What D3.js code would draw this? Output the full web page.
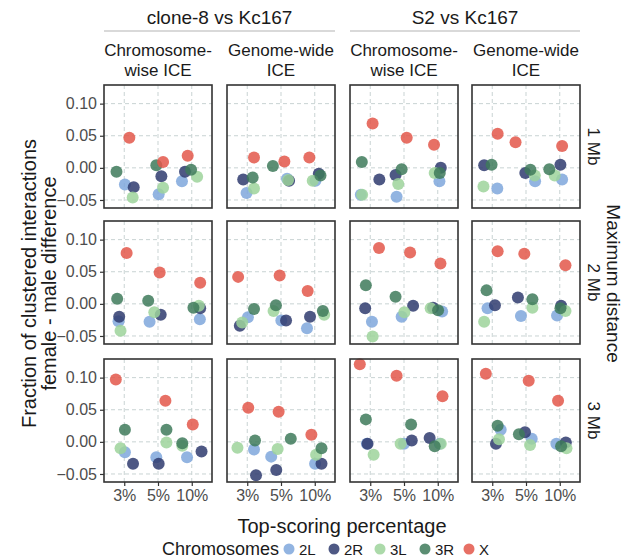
<!DOCTYPE html>
<html><head><meta charset="utf-8">
<script src="https://cdn.jsdelivr.net/npm/d3@7"></script>
<style>body{margin:0;background:#fff;} text{font-family:"Liberation Sans",Arial,sans-serif;}</style>
</head><body><svg id="c" width="623" height="560"></svg>
<script>
const chromosomes = ["2L","2R","3L","3R","X"];
const colors = ["#7fa7dc","#2f3b6f","#9dd39b","#3e7a5b","#e3574a"];
const percentages = ["3%","5%","10%"];
const comparisons = ["clone-8 vs Kc167","S2 vs Kc167"];
const methods = ["Chromosome-\nwise ICE","Genome-wide\nICE"];
const distances = ["1 Mb","2 Mb","3 Mb"];
const yTicks = [-0.05,0,0.05,0.10];

// values[row][col][percentage] = [2L,2R,3L,3R,X]
const values = [
 [
  [[-0.026,-0.030,-0.046,-0.006,0.047],[-0.041,-0.013,-0.031,0.004,0.009],[-0.021,-0.006,-0.014,-0.003,0.019]],
  [[-0.039,-0.018,-0.032,-0.015,0.016],[-0.017,-0.020,-0.019,0.003,0.010],[-0.020,-0.009,-0.020,-0.012,0.016]],
  [[-0.042,-0.018,-0.042,0.009,0.069],[-0.045,-0.011,-0.025,-0.002,0.047],[-0.021,0.000,-0.008,-0.008,0.036]],
  [[-0.032,0.004,-0.029,0.005,0.053],[-0.021,-0.008,-0.012,-0.003,0.040],[-0.018,0.005,-0.012,-0.002,0.034]]
 ],
 [
  [[-0.027,-0.020,-0.042,0.008,0.079],[-0.028,-0.017,-0.013,0.005,0.049],[-0.024,-0.007,-0.003,-0.006,0.033]],
  [[-0.021,-0.034,-0.029,-0.008,0.042],[-0.026,-0.026,-0.011,-0.002,0.044],[-0.038,-0.020,-0.017,-0.011,0.020]],
  [[-0.028,-0.007,-0.051,0.029,0.087],[-0.020,-0.003,-0.013,0.011,0.080],[-0.012,-0.006,-0.007,-0.010,0.063]],
  [[-0.007,-0.002,-0.028,0.021,0.082],[-0.019,0.010,-0.006,0.007,0.078],[-0.018,-0.003,-0.011,-0.007,0.060]]
 ],
 [
  [[-0.016,-0.034,-0.010,0.019,0.097],[-0.024,-0.034,-0.001,0.019,0.064],[-0.024,-0.015,-0.006,-0.002,0.027]],
  [[-0.012,-0.052,-0.009,0.002,0.053],[-0.023,-0.044,-0.011,0.005,0.047],[-0.034,-0.034,-0.020,-0.010,0.011]],
  [[-0.003,-0.003,-0.020,0.035,0.121],[-0.003,0.002,-0.003,0.027,0.103],[-0.003,0.006,-0.003,-0.007,0.071]],
  [[0.019,-0.003,0.004,0.025,0.106],[0.005,0.015,-0.005,0.012,0.095],[-0.003,-0.001,-0.010,-0.007,0.064]]
 ]
];
// horizontal jitter, in category units
const jitter = [
 [
  [[0.02,0.28,0.25,-0.23,0.15],[0.02,0.10,0.15,-0.05,0.15],[-0.29,-0.20,0.16,-0.02,-0.12]],
  [[-0.02,-0.12,0.20,0.16,0.20],[0.18,0.24,0.21,-0.24,0.10],[0.02,0.12,-0.06,0.17,-0.16]],
  [[-0.28,0.27,-0.24,-0.25,0.07],[-0.22,-0.25,-0.17,-0.07,0.08],[0.05,0.09,-0.09,0.06,-0.11]],
  [[0.15,-0.24,-0.26,-0.02,0.16],[0.27,-0.02,0.26,0.13,-0.31],[0.07,0.02,-0.15,-0.31,0.07]]
 ],
 [
  [[-0.17,-0.15,-0.11,-0.21,0.07],[-0.25,0.08,-0.11,-0.29,0.05],[0.24,0.25,0.21,0.05,0.25]],
  [[0.02,-0.22,-0.15,0.20,-0.27],[0.01,0.15,-0.22,-0.15,-0.04],[-0.23,-0.14,0.28,0.24,-0.21]],
  [[0.05,-0.15,0.07,-0.13,0.26],[-0.07,0.27,0.01,-0.25,0.18],[0.13,-0.14,-0.21,0.01,0.08]],
  [[-0.14,0.08,-0.24,-0.17,0.16],[-0.15,-0.24,0.19,0.19,-0.05],[-0.08,0.04,0.17,0.02,0.17]]
 ],
 [
  [[0.02,0.26,-0.11,0.02,-0.25],[-0.05,0.02,0.25,0.25,0.22],[-0.14,0.29,-0.28,-0.28,0.03]],
  [[0.20,0.26,-0.29,0.23,0.03],[-0.29,-0.14,-0.10,0.29,-0.07],[0.01,0.20,0.04,0.20,-0.10]],
  [[-0.10,-0.08,0.10,-0.13,-0.31],[0.00,0.23,-0.10,0.21,-0.22],[0.06,-0.24,0.09,-0.09,0.14]],
  [[0.25,0.11,0.20,0.16,-0.19],[0.17,-0.03,0.12,-0.21,0.08],[-0.10,0.18,0.20,0.04,-0.05]]
 ]
];

const svg = d3.select("#c");
const panelLeft = [104,227,350,472], panelW = 108;
const panelTop = [85,221,359], panelH = 123;
const ink = "#4d4d4d";
const FF = "'Liberation Sans',Arial,sans-serif";

const y = d3.scaleLinear().domain([-0.0625,0.129]).range([panelH,0]);
const x = d3.scaleLinear().domain([0.4,3.6]).range([0,panelW]);

panelTop.forEach((top,r)=>{
  panelLeft.forEach((left,c)=>{
    const g = svg.append("g").attr("transform",`translate(${left},${top})`);
    g.selectAll(".gy").data(yTicks).enter().append("line")
      .attr("x1",0).attr("x2",panelW).attr("y1",d=>y(d)).attr("y2",d=>y(d))
      .attr("stroke","#c9d3d3").attr("stroke-width",1).attr("stroke-dasharray","4,3");
    g.selectAll(".gx").data(percentages).enter().append("line")
      .attr("y1",0).attr("y2",panelH).attr("x1",(d,i)=>x(i+1)).attr("x2",(d,i)=>x(i+1))
      .attr("stroke","#c9d3d3").attr("stroke-width",1).attr("stroke-dasharray","4,3");
    const pts = [];
    percentages.forEach((p,pi)=>{
      chromosomes.forEach((ch,ci)=>{
        pts.push({ci, xv: pi+1+jitter[r][c][pi][ci], yv: values[r][c][pi][ci]});
      });
    });
    g.selectAll("circle").data(pts).enter().append("circle")
      .attr("cx",d=>x(d.xv)).attr("cy",d=>y(d.yv)).attr("r",6)
      .attr("fill",d=>colors[d.ci]).attr("fill-opacity",0.85);
    g.append("rect").attr("width",panelW).attr("height",panelH)
      .attr("fill","none").attr("stroke","#333").attr("stroke-width",1.6);
    if(c===0){
      const ax = g.append("g").call(d3.axisLeft(y).tickValues(yTicks).tickSize(4)
        .tickFormat(d=>d3.format(".2f")(d)));
      ax.select(".domain").remove();
      ax.selectAll("line").attr("stroke","#333").attr("stroke-width",1.2);
      ax.selectAll("text").attr("fill",ink).attr("font-size",16).attr("x",-7)
        .style("font-family",FF);
    }
    if(r===2){
      const ax = g.append("g").attr("transform",`translate(0,${panelH})`)
        .call(d3.axisBottom(x).tickValues([1,2,3]).tickSize(4).tickFormat((d,i)=>percentages[i]));
      ax.select(".domain").remove();
      ax.selectAll("line").attr("stroke","#333").attr("stroke-width",1.2);
      ax.selectAll("text").attr("fill",ink).attr("font-size",16).attr("y",8)
        .style("font-family",FF);
    }
  });
  svg.append("text").attr("transform",`translate(592,${top+panelH/2}) rotate(90)`)
    .attr("text-anchor","middle").attr("dominant-baseline","middle")
    .attr("font-size",17).attr("fill","#1a1a1a").text(distances[r]);
});

panelLeft.forEach((left,c)=>{
  const lines = methods[c%2].split("\n");
  lines.forEach((ln,li)=>{
    svg.append("text").attr("x",left+panelW/2).attr("y",56+li*20)
      .attr("text-anchor","middle").attr("font-size",17).attr("fill","#1a1a1a").text(ln);
  });
});
comparisons.forEach((cmp,k)=>{
  const l = panelLeft[k*2], rgt = panelLeft[k*2+1]+panelW;
  svg.append("text").attr("x",(l+rgt)/2).attr("y",24).attr("text-anchor","middle")
    .attr("font-size",19).attr("fill","#1a1a1a").text(cmp);
  svg.append("line").attr("x1",l).attr("x2",rgt).attr("y1",31).attr("y2",31)
    .attr("stroke","#b3b3b3").attr("stroke-width",1.2);
});

svg.append("text").attr("transform",`translate(612,${(panelTop[0]+panelTop[2]+panelH)/2}) rotate(90)`)
  .attr("text-anchor","middle").attr("dominant-baseline","middle")
  .attr("font-size",19).attr("fill","#1a1a1a").text("Maximum distance");
const yTitle = ["Fraction of clustered interactions","female - male difference"];
yTitle.forEach((t,i)=>{
  svg.append("text").attr("transform",`translate(${36+i*20},${(panelTop[0]+panelTop[2]+panelH)/2}) rotate(-90)`)
    .attr("text-anchor","middle").attr("font-size",20).attr("fill","#1a1a1a").text(t);
});
svg.append("text").attr("x",(panelLeft[0]+panelLeft[3]+panelW)/2).attr("y",533)
  .attr("text-anchor","middle").attr("font-size",20).attr("fill","#1a1a1a").text("Top-scoring percentage");

const lg = svg.append("g").attr("transform","translate(0,549)");
lg.append("text").attr("x",162).attr("y",6).attr("font-size",18).attr("fill","#1a1a1a").text("Chromosomes");
const legX = [289,334,380,425,469];
chromosomes.forEach((ch,i)=>{
  lg.append("circle").attr("cx",legX[i]).attr("cy",0).attr("r",5.5).attr("fill",colors[i]).attr("fill-opacity",0.85);
  lg.append("text").attr("x",legX[i]+10).attr("y",5.5).attr("font-size",15).attr("fill","#1a1a1a").text(ch);
});
</script></body></html>
